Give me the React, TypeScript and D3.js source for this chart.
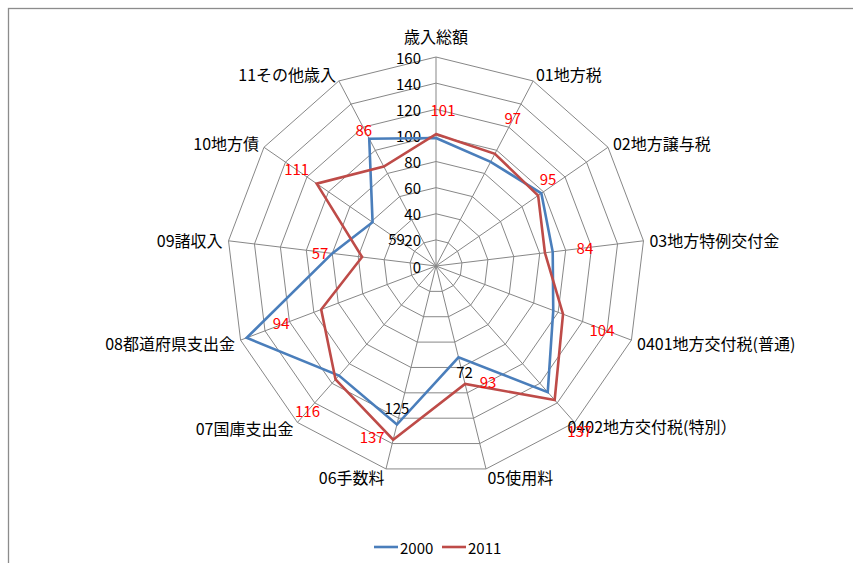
import { useEffect, useRef } from 'react';
import * as d3 from 'd3';

const categories = [
  '歳入総額',
  '01地方税',
  '02地方譲与税',
  '03地方特例交付金',
  '0401地方交付税(普通)',
  '0402地方交付税(特別）',
  '05使用料',
  '06手数料',
  '07国庫支出金',
  '08都道府県支出金',
  '09諸収入',
  '10地方債',
  '11その他歳入',
];
const values2000 = [98, 90, 98, 90, 96, 129, 72, 125, 112, 155, 80, 59, 110];
const values2011 = [101, 97, 95, 84, 104, 137, 93, 137, 116, 94, 57, 111, 86];
const ticks = [0, 20, 40, 60, 80, 100, 120, 140, 160];
// which 2000 values carry a (black) data label
const labeled2000 = [11, 6, 7];

const W = 853;
const H = 563;
const FONT = '"Noto Sans CJK JP", "Noto Sans", sans-serif';

export default function App() {
  const svgRef = useRef<SVGSVGElement>(null);

  useEffect(() => {
    if (!svgRef.current) return;
    const svg = d3.select(svgRef.current);
    svg.selectAll('*').remove();

    // chart frame
    svg
      .append('rect')
      .attr('x', 8.5)
      .attr('y', 8.5)
      .attr('width', 900)
      .attr('height', 600)
      .attr('fill', '#fff')
      .attr('stroke', '#8c8c8c')
      .attr('stroke-width', 1.3);

    const cx = 436;
    const cy = 266;
    const r = d3.scaleLinear().domain([0, 160]).range([0, 209]);
    const n = categories.length;
    const angle = d3
      .scaleLinear()
      .domain([0, n])
      .range([0, Math.PI * 2]);

    const pt = (i: number, v: number): [number, number] => {
      const a = angle(i);
      return [cx + r(v) * Math.sin(a), cy - r(v) * Math.cos(a)];
    };

    const g = svg.append('g');

    // grid rings
    ticks.slice(1).forEach((t) => {
      g.append('path')
        .attr('d', d3.line()(d3.range(n).map((i) => pt(i, t))) + 'Z')
        .attr('fill', 'none')
        .attr('stroke', '#878787')
        .attr('stroke-width', 1);
    });
    // spokes
    d3.range(n).forEach((i) => {
      const [x, y] = pt(i, 160);
      g.append('line')
        .attr('x1', cx)
        .attr('y1', cy)
        .attr('x2', x)
        .attr('y2', y)
        .attr('stroke', '#878787')
        .attr('stroke-width', 1);
    });

    // tick labels
    ticks.forEach((t) => {
      g.append('text')
        .attr('x', 421)
        .attr('y', cy - r(t))
        .attr('text-anchor', 'end')
        .attr('dominant-baseline', 'central')
        .attr('font-family', FONT)
        .attr('font-size', 15)
        .attr('fill', '#000')
        .text(t);
    });

    // category labels
    const catShift: Record<number, [number, number]> = { 5: [-11, -2] };
    categories.forEach((c, i) => {
      const a = angle(i);
      const s = Math.sin(a);
      const co = Math.cos(a);
      const [vx, vy] = pt(i, 160);
      let x = vx + 6 * s;
      let y = vy - 8 * co;
      const anchor = s > 0.05 ? 'start' : s < -0.05 ? 'end' : 'middle';
      if (anchor === 'middle') y = vy - 21;
      const sh = catShift[i];
      if (sh) {
        x += sh[0];
        y += sh[1];
      }
      g.append('text')
        .attr('x', x)
        .attr('y', y)
        .attr('text-anchor', anchor)
        .attr('dominant-baseline', 'central')
        .attr('font-family', FONT)
        .attr('font-size', 16)
        .attr('fill', '#000')
        .text(c);
    });

    const series = [
      { name: '2000', values: values2000, color: '#4a7ebb' },
      { name: '2011', values: values2011, color: '#be4b48' },
    ];
    series.forEach((sr) => {
      g.append('path')
        .attr('d', d3.line()(sr.values.map((v, i) => pt(i, v))) + 'Z')
        .attr('fill', 'none')
        .attr('stroke', sr.color)
        .attr('stroke-width', 2.6)
        .attr('stroke-linejoin', 'miter');
    });

    // hand-placed data labels (pixel offsets from the point)
    const redShift: [number, number][] = [
      [7, -25], [18, -36], [10, -17], [40, -5], [39, 15], [25, 31], [23, -2],
      [-21, -3], [-28, 31], [-40, 13], [-42, -5], [-20, -15], [-20, -37],
    ];
    values2011.forEach((v, i) => {
      const [x, y] = pt(i, v);
      g.append('text')
        .attr('x', x + redShift[i][0])
        .attr('y', y + redShift[i][1])
        .attr('text-anchor', 'middle')
        .attr('dominant-baseline', 'central')
        .attr('font-family', FONT)
        .attr('font-size', 15)
        .attr('fill', '#ff0000')
        .text(v);
    });
    const blackShift: Record<number, [number, number]> = {
      11: [24, 16],
      6: [6, 14],
      7: [0, -17],
    };
    labeled2000.forEach((i) => {
      const [x, y] = pt(i, values2000[i]);
      g.append('text')
        .attr('x', x + blackShift[i][0])
        .attr('y', y + blackShift[i][1])
        .attr('text-anchor', 'middle')
        .attr('dominant-baseline', 'central')
        .attr('font-family', FONT)
        .attr('font-size', 15)
        .attr('fill', '#000')
        .text(values2000[i]);
    });

    // legend
    const leg = svg.append('g').attr('transform', 'translate(374, 547)');
    const lx = d3.scaleOrdinal<string, number>().domain(['2000', '2011']).range([0, 68]);
    series.forEach((sr) => {
      const x0 = lx(sr.name);
      leg
        .append('line')
        .attr('x1', x0)
        .attr('x2', x0 + 24)
        .attr('y1', 0)
        .attr('y2', 0)
        .attr('stroke', sr.color)
        .attr('stroke-width', 2.6);
      leg
        .append('text')
        .attr('x', x0 + 26)
        .attr('y', 0)
        .attr('dominant-baseline', 'central')
        .attr('font-family', FONT)
        .attr('font-size', 15)
        .attr('fill', '#000')
        .text(sr.name);
    });
  }, []);

  return (
    <div style={{ position: 'absolute', left: 0, top: 0, width: W, height: H, overflow: 'hidden' }}>
      <svg ref={svgRef} width={W} height={H} role="img" aria-label="歳入 レーダーチャート 2000 / 2011" />
    </div>
  );
}
